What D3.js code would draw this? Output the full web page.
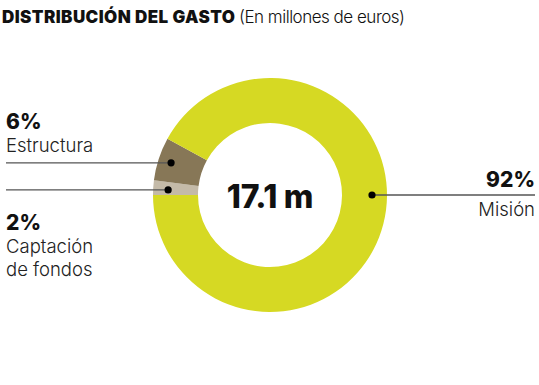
<!DOCTYPE html>
<html><head><meta charset="utf-8">
<script src="https://cdn.jsdelivr.net/npm/d3@7"></script>
<style>body{margin:0;background:#fff}svg{display:block}</style>
</head><body>
<svg id="c" width="539" height="385"></svg>
<script>
const categories = ["Captación de fondos", "Estructura", "Misión"];
const labelLines = [["Captación", "de fondos"], ["Estructura"], ["Misión"]];
const values = [2, 6, 92];
const percentLabels = ["2%", "6%", "92%"];
const totalLabel = "17.1 m";
const titleBold = "DISTRIBUCIÓN DEL GASTO";
const titleLight = "(En millones de euros)";
const colors = ["#c4baa8", "#877757", "#d6d923"];

const svg = d3.select("#c");
const cx = 270, cy = 195, rOut = 117, rIn = 72;

svg.append("text").attr("x", 2).attr("y", 23)
  .attr("textLength", 233).attr("lengthAdjust", "spacing")
  .style("font-family", "Inter, sans-serif").style("font-size", "17px").style("font-weight", 900)
  .attr("fill", "#111").text(titleBold);
svg.append("text").attr("x", 239).attr("y", 23)
  .attr("textLength", 166).attr("lengthAdjust", "spacing")
  .style("font-family", "Inter, sans-serif").style("font-size", "17px").style("font-weight", 300)
  .attr("fill", "#111").text(titleLight);

const pie = d3.pie().sort(null).value(d => d)
  .startAngle(1.5 * Math.PI).endAngle(3.5 * Math.PI);
const arcs = pie(values);
const arc = d3.arc().innerRadius(rIn).outerRadius(rOut);
const g = svg.append("g").attr("transform", `translate(${cx},${cy})`);
g.selectAll("path").data(arcs).join("path")
  .attr("d", arc).attr("fill", (d, i) => colors[i]);

g.append("text").attr("x", 0).attr("y", 13).attr("text-anchor", "middle")
  .style("font-family", "Inter, sans-serif").style("font-weight", 800)
  .style("font-size", "32px").style("letter-spacing", "-0.3px").attr("fill", "#111").text(totalLabel);

const dotAngle = [arcs[0].startAngle + (arcs[0].endAngle - arcs[0].startAngle) * 0.4,
                  (arcs[1].startAngle + arcs[1].endAngle) / 2, 2.5 * Math.PI];
const dotR = [102, 104, 102];
const side = [-1, -1, 1];
const pctY = [230, 129, 187];
const labY = [253, 152, 216];

categories.forEach((c, i) => {
  const a = dotAngle[i];
  const x = cx + dotR[i] * Math.sin(a), y = cy - dotR[i] * Math.cos(a);
  const xEnd = side[i] < 0 ? 6 : 535;
  svg.append("line").attr("x1", x).attr("y1", y).attr("x2", xEnd).attr("y2", y)
    .attr("stroke", "#555").attr("stroke-width", 1.3);
  svg.append("circle").attr("cx", x).attr("cy", y).attr("r", 3.6).attr("fill", "#000");
  const anchor = side[i] < 0 ? "start" : "end";
  svg.append("text").attr("x", xEnd).attr("y", pctY[i]).attr("text-anchor", anchor)
    .style("font-family", "Inter, sans-serif").style("font-weight", 800).style("font-size", "21px")
    .attr("fill", "#111").text(percentLabels[i]);
  labelLines[i].forEach((t, k) => {
    svg.append("text").attr("x", xEnd).attr("y", labY[i] + k * 23).attr("text-anchor", anchor)
      .style("font-family", "Inter, sans-serif").style("font-weight", 300).style("font-size", "18.5px")
      .attr("fill", "#222").text(t);
  });
});
</script>
</body></html>
